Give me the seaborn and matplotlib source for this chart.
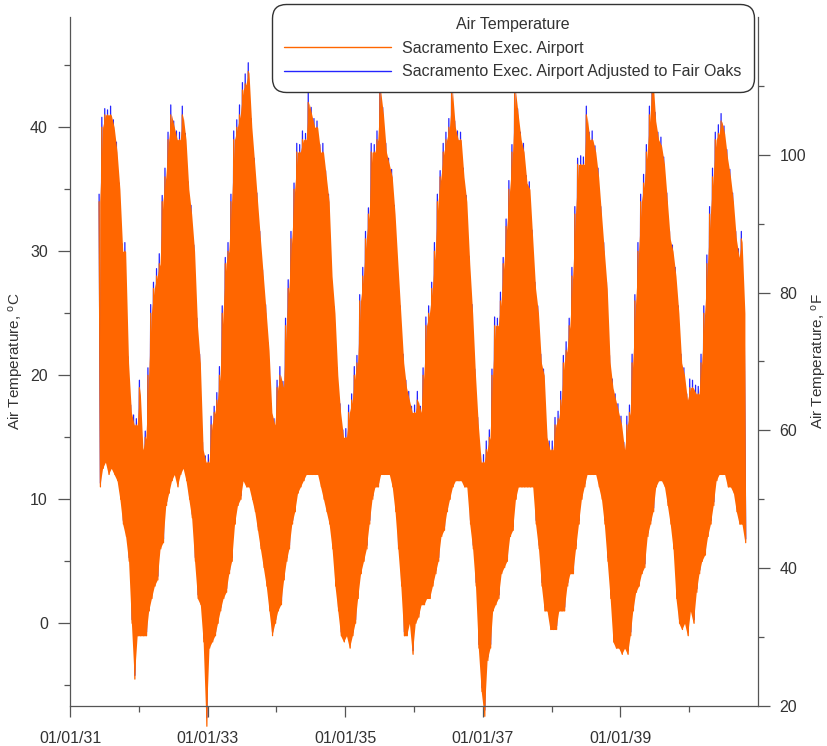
import numpy as np
import pandas as pd
import matplotlib
matplotlib.use("Agg")
import matplotlib.pyplot as plt
import matplotlib.dates as mdates
import matplotlib.ticker as mticker
from matplotlib.lines import Line2D
import seaborn as sns

# half-month highs / lows (deg C), Jun 1931 .. Oct 1940
sac_hi = [
    34, 40, 41, 41, 41, 40, 38, 35, 30, 30, 21, 17, 16, 16,                      # 1931
    19, 14, 15, 20, 25, 27, 28, 29, 34, 36, 39, 41, 40, 39, 39, 41, 39, 35, 33, 30, 24, 21, 14, 13,
    13, 16, 17, 18, 20, 25, 29, 30, 34, 39, 40, 41, 43, 43.5, 44.5, 40, 37, 34, 31, 28, 25, 22, 17, 16,
    19, 20, 19, 24, 27, 31, 35, 38, 38, 39, 39, 42, 41, 40, 40, 38, 38, 36, 34, 28, 25, 20, 17, 15,
    15, 17, 18, 20, 21, 26, 28, 31, 33, 38, 38, 39, 43, 41, 38, 37, 36, 33, 29, 25, 21, 19, 18, 17,
    17, 18, 17, 20, 24, 25, 27, 30, 34, 36, 38, 39, 40, 43, 40, 39, 39, 36, 34, 29, 25, 20, 16, 13,
    13, 14, 15, 20, 24, 24, 26, 29, 32, 35, 38, 43, 41, 39, 38, 35.5, 35, 31, 27, 25, 21, 20, 15, 14,
    14, 16, 16.5, 18, 21, 22, 24, 28, 33, 37, 37, 37, 41, 39, 39, 38, 36, 33, 30, 27, 21, 19, 18, 17,
    16, 14, 16, 17, 21, 26, 30, 34, 35.5, 38, 41, 44, 40.5, 39, 38.5, 37, 34, 31, 30, 28, 25, 21, 20, 18,
    19, 19, 18.5, 18.5, 21, 25, 29, 33, 36, 39, 39.5, 40.5, 39.5, 37.5, 36, 34, 31, 29.5, 31, 25,   # 1940
]
sac_lo = [
    11, 12.5, 13, 12, 12.5, 12, 11.5, 10, 8, 7, 5, 0, -4.5, -1,
    -1, -1, -1, 1, 2, 3, 3.5, 6, 6.5, 9.5, 10.5, 11.5, 12, 11, 12, 12.5, 11.5, 10, 8.5, 5, 2, 1.5, -1.5, -8.3,
    -2, -1.5, -1, 0, 1, 2, 2.5, 4, 5, 8, 9.5, 10, 11.5, 11, 11, 10, 9, 7.5, 6, 4.5, 3, 1, -1, 0,
    1, 1.5, 3.5, 5, 6, 8, 9, 10.5, 11, 11.5, 12, 12, 12, 12, 12, 11, 10, 9, 8, 6, 3, 1, -1, -1.5,
    -1, -2, -1, 0, 2, 4, 5, 6, 8, 10, 11, 11, 12, 12, 12, 12, 11, 9, 6, 3, -1, -1, 0, -2.5,
    0, 0.5, 1.5, 1.5, 2, 2, 3, 4, 5, 7, 7.5, 9, 10, 11, 11.5, 11.5, 11.5, 11, 11, 8, 6, 3, -2, -5.5,
    -7.5, -3, -2, 1, 1.5, 2, 4, 4.5, 5, 7, 7.5, 10, 11, 11, 11, 11, 11, 11, 8, 6, 3, 1, 1, -0.5,
    -0.5, -0.5, 1, 1, 1, 3, 4, 4, 6, 8, 10, 11, 12, 12, 12, 12, 11, 10, 8, 5, 2, -1.5, -2, -2,
    -2.5, -2, -2.5, -1, 1, 2.5, 3, 4, 4.5, 7, 8, 9, 11, 11.5, 11.5, 11, 9.5, 8, 6, 2, 0, -0.5, 0, -1,
    1, 0, 2.5, 4, 5, 5.5, 7, 8, 9.5, 11.5, 12, 12, 12, 11, 11, 10.5, 9, 8, 8, 6.5,
]
adj_hi = [
    34.6, 40.8, 41.5, 41.4, 41.7, 40.6, 38.8, 35.5, 30.6, 30.7, 21.5, 17.6, 16.8, 16.5,
    19.6, 14.7, 15.5, 20.6, 25.7, 27.5, 28.6, 29.8, 34.5, 36.7, 39.6, 41.8, 40.5, 39.7, 39.6, 41.7, 39.5, 35.6, 33.7, 30.5, 24.6, 21.7, 14.6, 13.5,
    13.6, 16.7, 17.5, 18.6, 20.7, 25.6, 29.5, 30.7, 34.6, 39.7, 40.6, 41.8, 43.6, 44.3, 45.2, 40.7, 37.5, 34.7, 31.6, 28.5, 25.7, 22.6, 17.7, 16.5,
    19.6, 20.7, 19.5, 24.6, 27.7, 31.6, 35.5, 38.7, 38.6, 39.7, 39.5, 42.8, 41.6, 40.7, 40.5, 38.6, 38.7, 36.5, 34.6, 28.7, 25.5, 20.6, 17.7, 15.6,
    15.7, 17.6, 18.5, 20.7, 21.6, 26.5, 28.7, 31.6, 33.5, 38.7, 38.6, 39.7, 43.7, 41.6, 38.7, 37.5, 36.6, 33.7, 29.5, 25.6, 21.7, 19.6, 18.7, 17.5,
    17.6, 18.7, 17.5, 20.6, 24.7, 25.6, 27.5, 30.7, 34.6, 36.5, 38.7, 39.6, 40.7, 43.6, 40.5, 39.7, 39.6, 36.7, 34.5, 29.6, 25.7, 20.5, 16.6, 13.7,
    13.6, 14.7, 15.6, 20.5, 24.7, 24.6, 26.7, 29.5, 32.6, 35.7, 38.6, 43.7, 41.5, 39.6, 38.7, 36.1, 35.6, 31.7, 27.5, 25.6, 21.7, 20.5, 15.6, 14.7,
    14.7, 16.6, 17.1, 18.7, 21.6, 22.7, 24.6, 28.7, 33.6, 37.5, 37.7, 37.6, 41.7, 39.6, 39.7, 38.5, 36.7, 33.6, 30.7, 27.5, 21.6, 19.7, 18.5, 17.7,
    16.7, 14.6, 16.7, 17.6, 21.7, 26.5, 30.7, 34.6, 36.2, 38.6, 41.7, 44.2, 41.2, 39.6, 39.2, 37.6, 34.7, 31.6, 30.5, 28.7, 25.6, 21.7, 20.6, 18.5,
    19.7, 19.6, 19.2, 19.1, 21.7, 25.6, 29.7, 33.6, 36.7, 39.6, 40.2, 41.1, 40.1, 38.2, 36.6, 34.7, 31.6, 30.2, 31.6, 25.6,
]
adj_lo = [
    11.3, 12.8, 13.3, 12.3, 12.8, 12.3, 11.8, 10.3, 8.3, 7.3, 5.3, 0.3, -4.2, -0.7,
    -0.7, -0.7, -0.7, 1.3, 2.3, 3.3, 3.8, 6.3, 6.8, 9.8, 10.8, 11.8, 12.3, 11.3, 12.3, 12.8, 11.8, 10.3, 8.8, 5.3, 2.3, 1.8, -1.2, -7.6,
    -1.7, -1.2, -0.7, 0.3, 1.3, 2.3, 2.8, 4.3, 5.3, 8.3, 9.8, 10.3, 11.8, 11.3, 11.3, 10.3, 9.3, 7.8, 6.3, 4.8, 3.3, 1.3, -0.7, 0.3,
    1.3, 1.8, 3.8, 5.3, 6.3, 8.3, 9.3, 10.8, 11.3, 11.8, 12.3, 12.3, 12.3, 12.3, 12.3, 11.3, 10.3, 9.3, 8.3, 6.3, 3.3, 1.3, -0.7, -1.2,
    -0.7, -1.7, -0.7, 0.3, 2.3, 4.3, 5.3, 6.3, 8.3, 10.3, 11.3, 11.3, 12.3, 12.3, 12.3, 12.3, 11.3, 9.3, 6.3, 3.3, -0.7, -0.7, 0.3, -2.2,
    0.3, 0.8, 1.8, 1.8, 2.3, 2.3, 3.3, 4.3, 5.3, 7.3, 7.8, 9.3, 10.3, 11.3, 11.8, 11.8, 11.8, 11.3, 11.3, 8.3, 6.3, 3.3, -1.7, -5.2,
    -7.0, -2.7, -1.7, 1.3, 1.8, 2.3, 4.3, 4.8, 5.3, 7.3, 7.8, 10.3, 11.3, 11.3, 11.3, 11.3, 11.3, 11.3, 8.3, 6.3, 3.3, 1.3, 1.3, -0.2,
    -0.2, -0.2, 1.3, 1.3, 1.3, 3.3, 4.3, 4.3, 6.3, 8.3, 10.3, 11.3, 12.3, 12.3, 12.3, 12.3, 11.3, 10.3, 8.3, 5.3, 2.3, -1.2, -1.7, -1.7,
    -2.2, -1.7, -2.2, -0.7, 1.3, 2.8, 3.3, 4.3, 4.8, 7.3, 8.3, 9.3, 11.3, 11.8, 11.8, 11.3, 9.8, 8.3, 6.3, 2.3, 0.3, -0.2, 0.3, -0.7,
    1.3, 0.3, 2.8, 4.3, 5.3, 5.8, 7.3, 8.3, 9.8, 11.8, 12.3, 12.3, 12.3, 11.3, 11.3, 10.8, 9.3, 8.3, 8.3, 6.8,
]

series_names = ["Sacramento Exec. Airport", "Sacramento Exec. Airport Adjusted to Fair Oaks"]
major_years = ["1931-01-01", "1933-01-01", "1935-01-01", "1937-01-01", "1939-01-01"]
minor_years = ["1932-01-01", "1934-01-01", "1936-01-01", "1938-01-01", "1940-01-01"]

ORANGE = "#ff6600"
BLUE = "#2424ff"
TXT = "#333333"
AX = "#555555"

# half-month periods starting 1 Jun 1931
edges = pd.date_range("1931-06-01", periods=len(sac_hi) + 1, freq="SMS")
start = edges[:-1]
width = edges[1:] - edges[:-1]
mid = start + width * 0.5


def zigzag(hi, lo, name):
    n = len(hi)
    t = np.empty(2 * n, dtype="datetime64[ns]")
    v = np.empty(2 * n)
    t[0::2] = (start + width * 0.25).values
    t[1::2] = (start + width * 0.75).values
    v[0::2] = hi
    v[1::2] = lo
    return pd.DataFrame({"Date": t, "Temp": v, "Series": name})


df_sac = zigzag(sac_hi, sac_lo, series_names[0])
df_adj = zigzag(adj_hi, adj_lo, series_names[1])

sns.set_style("ticks")
plt.rcParams["font.family"] = ["Liberation Sans", "DejaVu Sans"]
plt.rcParams["mathtext.fontset"] = "custom"
plt.rcParams["mathtext.rm"] = "Liberation Sans"

fig, ax = plt.subplots(figsize=(8.28, 7.46), dpi=100)
fig.subplots_adjust(left=70 / 828, right=758 / 828, bottom=1 - 706 / 746, top=1 - 17 / 746)

# adjusted series underneath, then the airport series on top (solid body + its line)
sns.lineplot(data=df_adj, x="Date", y="Temp", color=BLUE, lw=0.9,
             estimator=None, sort=False, legend=False, ax=ax, zorder=1)
body = ax.fill_between(mid, sac_lo, sac_hi, color=ORANGE, lw=0, zorder=1.5)
body.set_clip_on(False)
sns.lineplot(data=df_sac, x="Date", y="Temp", color=ORANGE, lw=0.9,
             estimator=None, sort=False, legend=False, ax=ax, zorder=2)
for ln in ax.lines:
    ln.set_clip_on(False)

ax.set_xlim(pd.Timestamp("1931-01-01"), pd.Timestamp("1941-01-01"))
ax.set_ylim((20 - 32) / 1.8, (120 - 32) / 1.8)
ax.xaxis.set_major_locator(mticker.FixedLocator(mdates.date2num(pd.to_datetime(major_years))))
ax.xaxis.set_minor_locator(mticker.FixedLocator(mdates.date2num(pd.to_datetime(minor_years))))
ax.xaxis.set_major_formatter(mdates.DateFormatter("%m/%d/%y"))
ax.set_yticks([0, 10, 20, 30, 40])
ax.set_yticks([-5, 5, 15, 25, 35, 45], minor=True)
ax.set_xlabel("")
ax.set_ylabel("Air Temperature, $\\mathregular{^{o}}$C", fontsize=11, color=TXT, labelpad=3)

ax2 = ax.twinx()
ax2.set_ylim(20, 120)
ax2.set_yticks([20, 40, 60, 80, 100])
ax2.set_yticks([30, 50, 70, 90, 110], minor=True)
ax2.set_ylabel("Air Temperature, $\\mathregular{^{o}}$F", fontsize=11, color=TXT, labelpad=3)

for a in (ax, ax2):
    for s in a.spines.values():
        s.set_color(AX)
        s.set_linewidth(0.9)
    a.spines["top"].set_visible(False)
    a.tick_params(which="major", length=8.5, width=0.9, color=AX, labelsize=11.5, labelcolor=TXT, pad=7.5)
    a.tick_params(which="minor", length=4.3, width=0.9, color=AX)
ax.spines["right"].set_visible(False)
ax2.spines["left"].set_visible(False)
ax2.spines["bottom"].set_visible(False)
ax.tick_params(axis="x", which="major", length=7.7, pad=10)
ax.tick_params(axis="x", which="minor", length=4.1)
ax2.tick_params(axis="y", which="major", pad=7)

handles = [Line2D([], [], color=ORANGE, lw=1.0), Line2D([], [], color=BLUE, lw=1.0)]
leg = ax2.legend(handles, series_names, title="Air Temperature", loc="upper right",
                 bbox_to_anchor=(754 / 828, 742 / 746), bbox_transform=fig.transFigure,
                 borderaxespad=0, fontsize=11.5, title_fontsize=11.5, handlelength=6.65,
                 handletextpad=0.7, borderpad=0.8, labelspacing=0.55, frameon=True,
                 fancybox=True, framealpha=1)
leg.get_frame().set_edgecolor("#333333")
leg.get_frame().set_linewidth(1.0)
leg.get_frame().set_boxstyle("round,pad=0,rounding_size=0.9")
leg.get_title().set_color(TXT)
for t in leg.get_texts():
    t.set_color(TXT)

fig.savefig("out.png", dpi=100)
